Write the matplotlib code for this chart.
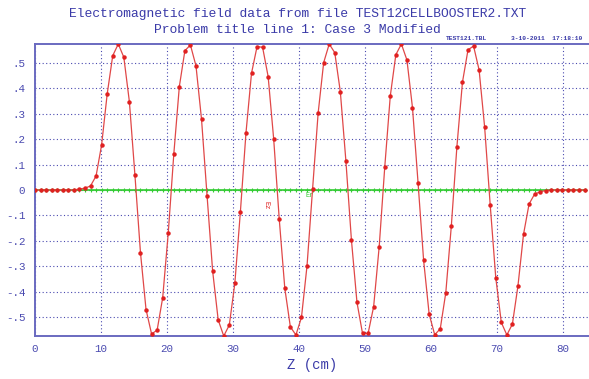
import numpy as np
import matplotlib
matplotlib.use("Agg")
import matplotlib.pyplot as plt

# ---- data ----
n_points = 100
z_end = 83.33
z = np.linspace(0.0, z_end, n_points)

ez = [0.0, 0.0, 0.0, 0.0, 0.0, 0.0, 0.0, 0.0,
      0.004, 0.007, 0.016, 0.055, 0.177, 0.376, 0.527, 0.573, 0.521, 0.347,
      0.059, -0.246, -0.469, -0.565, -0.550, -0.423, -0.170, 0.140, 0.406,
      0.547, 0.569, 0.487, 0.277, -0.024, -0.318, -0.510, -0.573, -0.530,
      -0.366, -0.085, 0.223, 0.458, 0.563, 0.560, 0.445, 0.199, -0.115,
      -0.386, -0.537, -0.569, -0.500, -0.298, 0.003, 0.301, 0.500, 0.573,
      0.539, 0.386, 0.115, -0.196, -0.441, -0.563, -0.563, -0.458, -0.223,
      0.089, 0.369, 0.531, 0.573, 0.510, 0.323, 0.029, -0.275, -0.487,
      -0.568, -0.545, -0.403, -0.140, 0.170, 0.423, 0.550, 0.565, 0.471,
      0.246, -0.059, -0.344, -0.520, -0.569, -0.526, -0.376, -0.174, -0.055,
      -0.016, -0.007, -0.002,
      0.0, 0.0, 0.0, 0.0, 0.0, 0.0, 0.0]
er = [0.0] * n_points

x_ticks = [0, 10, 20, 30, 40, 50, 60, 70, 80]
y_ticks = [-0.5, -0.4, -0.3, -0.2, -0.1, 0.0, 0.1, 0.2, 0.3, 0.4, 0.5]
y_tick_labels = ["-.5", "-.4", "-.3", "-.2", "-.1", "0", ".1", ".2", ".3", ".4", ".5"]

title1 = "Electromagnetic field data from file TEST12CELLBOOSTER2.TXT"
title2 = "Problem title line 1: Case 3 Modified"
x_label = "Z (cm)"
file_tag = "TEST121.TBL"
date_tag = "3-10-2011  17:18:10"

# ---- style ----
BLUE = "#4a4ab0"
TBLUE = "#3a3aa8"
RED = "#e02020"
RED_LINE = "#e04848"
GREEN = "#33cc33"
MONO = ["Liberation Mono", "DejaVu Sans Mono"]

fig = plt.figure(figsize=(5.89, 3.79), dpi=100)
fig.patch.set_facecolor("white")
ax = fig.add_axes([35 / 589, 43 / 379, 554 / 589, 292 / 379])

ax.set_xlim(0, 84)
ax.set_ylim(-0.573, 0.573)

ax.plot(z, er, color=GREEN, lw=1.2, marker="+", ms=3, mew=0.8, zorder=3)
ax.plot(z, ez, color=RED_LINE, lw=0.9, zorder=4)
ax.plot(z, ez, ls="none", marker="o", ms=2.2, color=RED, mec=RED, zorder=5)

ax.set_xticks(x_ticks)
ax.set_yticks(y_ticks)
ax.set_yticklabels(y_tick_labels)
ax.tick_params(length=0, labelsize=7.8, colors=BLUE)
ax.tick_params(axis="y", pad=7)
ax.tick_params(axis="x", pad=5.5)
for lab in ax.get_xticklabels() + ax.get_yticklabels():
    lab.set_family(MONO)

ax.grid(True, color=BLUE, lw=0.8, linestyle=(0, (1, 2.2)))
ax.set_axisbelow(True)

for side in ["left", "top", "bottom"]:
    ax.spines[side].set_color("#6a6ac0")
    ax.spines[side].set_linewidth(1.4)
ax.spines["right"].set_visible(False)

ax.set_xlabel(x_label, family=MONO, fontsize=10, color=TBLUE)
ax.xaxis.set_label_coords(0.5, -0.10)
ax.xaxis.label.set_va("center")

fig.text(0.505, 0.962, title1, family=MONO, fontsize=9.4, color=TBLUE,
         ha="center", va="center")
fig.text(0.505, 0.922, title2, family=MONO, fontsize=9.4, color=TBLUE,
         ha="center", va="center")
fig.text(466 / 589, 1 - 41 / 379, file_tag, family=MONO, fontsize=4.5,
         color=TBLUE, ha="center", va="bottom", weight="bold")
fig.text(547 / 589, 1 - 41 / 379, date_tag, family=MONO, fontsize=4.5,
         color=TBLUE, ha="center", va="bottom", weight="bold")

ax.text(35.0, -0.06, "Ez", color=RED, fontsize=5, family=MONO,
        rotation=-90, ha="center", va="center")
ax.text(41.7, -0.022, "Er", color=GREEN, fontsize=5, family=MONO,
        ha="center", va="center")

fig.savefig("out.png", dpi=100, facecolor="white")
